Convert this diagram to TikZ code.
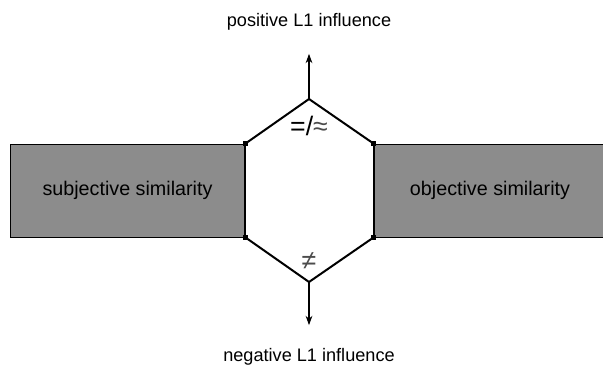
\documentclass[tikz,border=0pt]{standalone}
\usepackage{fontspec}
\setmainfont{Liberation Sans}
\usetikzlibrary{positioning, calc, arrows.meta}
\definecolor{simgray}{RGB}{140,140,140}

\begin{document}
\begin{tikzpicture}[
        x=0.75pt, y=-0.75pt,
        simbox/.style={rectangle, draw=black, fill=simgray, line width=0.6pt, minimum height=69.75pt, inner sep=0pt, font=\fontsize{14.8}{16}\selectfont},
        hexline/.style={line width=1.5pt, black, line join=miter},
        infl/.style={font=\fontsize{13.6}{15}\selectfont},
        arrow/.style={-{Stealth[length=7pt, width=5pt]}, line width=1.1pt},
        corner/.style={fill=black, inner sep=0pt, minimum size=4pt, rectangle}
    ]
        \useasboundingbox (0,0) rectangle (603,378);

        % Similarity boxes
        \node[simbox, minimum width=176.25pt] (SUBJ) at (127.5,190.5) {subjective similarity};
        \node[simbox, minimum width=174pt] (OBJ) at (490,190.5) {objective similarity};

        % Hexagon points
        \coordinate (TOP) at (309,99);
        \coordinate (BOT) at (309,282);
        \coordinate (TL) at (SUBJ.north east);
        \coordinate (BL) at (SUBJ.south east);
        \coordinate (TR) at (OBJ.north west);
        \coordinate (BR) at (OBJ.south west);

        \draw[hexline] (TL) -- (TOP) -- (TR);
        \draw[hexline] (BL) -- (BOT) -- (BR);
        \draw[hexline] (TL) -- (BL);
        \draw[hexline] (TR) -- (BR);

        \foreach \c in {TL,BL,TR,BR}
            \node[corner] at (\c) {};

        % Relation symbols
        \node[font=\fontsize{20}{22}\selectfont] (SIMREL) at (309,126) {=/\textcolor{black!70}{≈}};
        \node[font=\fontsize{20}{22}\selectfont, black!70] (DIFREL) at (309,261) {≠};

        % L1 influence
        \node[infl] (POS) at (309,22) {positive L1 influence};
        \node[infl] (NEG) at (309,357) {negative L1 influence};

        \draw[arrow, shorten >=14pt] (TOP) -- (POS);
        \draw[arrow, shorten >=14pt] (BOT) -- (NEG);
    \end{tikzpicture}
\end{document}
